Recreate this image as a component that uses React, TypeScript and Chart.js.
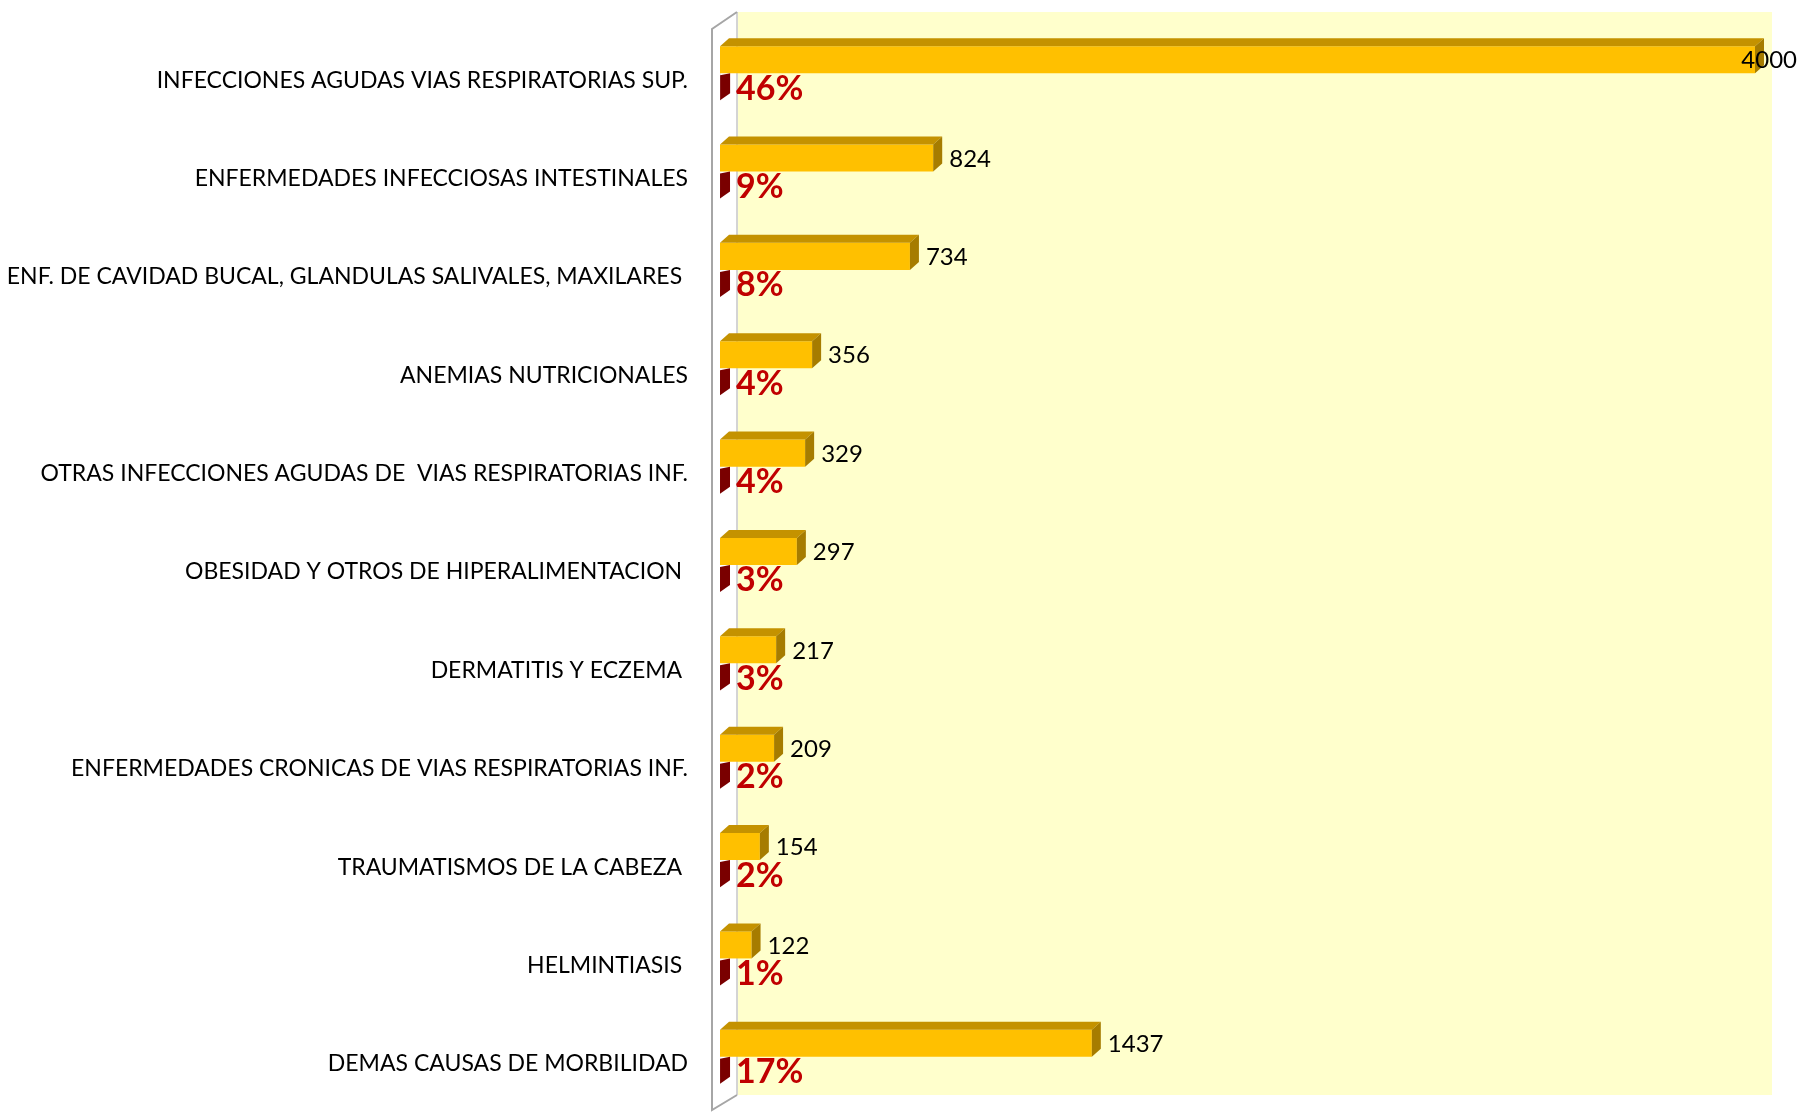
import React, { useEffect, useRef } from "react";
import { Chart, registerables } from "chart.js";

Chart.register(...registerables);

const categories = [
  "INFECCIONES AGUDAS VIAS RESPIRATORIAS SUP.",
  "ENFERMEDADES INFECCIOSAS INTESTINALES",
  "ENF. DE CAVIDAD BUCAL, GLANDULAS SALIVALES, MAXILARES ",
  "ANEMIAS NUTRICIONALES",
  "OTRAS INFECCIONES AGUDAS DE  VIAS RESPIRATORIAS INF.",
  "OBESIDAD Y OTROS DE HIPERALIMENTACION ",
  "DERMATITIS Y ECZEMA ",
  "ENFERMEDADES CRONICAS DE VIAS RESPIRATORIAS INF.",
  "TRAUMATISMOS DE LA CABEZA ",
  "HELMINTIASIS ",
  "DEMAS CAUSAS DE MORBILIDAD",
];

const casos = [4000, 824, 734, 356, 329, 297, 217, 209, 154, 122, 1437];
const porcentaje = [0.46, 0.09, 0.08, 0.04, 0.04, 0.03, 0.03, 0.02, 0.02, 0.01, 0.17];

const GOLD = "#FFC000";
const GOLD_TOP = "#C49200";
const GOLD_SIDE = "#A67C00";
const RED_SIDE = "#7A0000";
const PCT_RED = "#C00000";
const FONT = "Lato, 'Open Sans', sans-serif";

const DX = 9;
const DY = 8;

const decorPlugin = {
  id: "decor3d",
  beforeDatasetsDraw(chart: any) {
    const { ctx, chartArea } = chart;
    ctx.save();
    const bx0 = chartArea.left + 17;
    const bx1 = chartArea.right + 17;
    const by0 = chartArea.top - 12;
    const by1 = chartArea.bottom - 11;
    ctx.fillStyle = "#FFFFCC";
    ctx.fillRect(bx0, by0, bx1 - bx0, by1 - by0);
    const lx = chartArea.left - 8;
    ctx.strokeStyle = "#D4D4D4";
    ctx.lineWidth = 2;
    ctx.beginPath();
    ctx.moveTo(bx0, by0);
    ctx.lineTo(bx0, by1);
    ctx.stroke();
    ctx.strokeStyle = "#A6A6A6";
    ctx.beginPath();
    ctx.moveTo(bx0, by0);
    ctx.lineTo(lx, by0 + 17);
    ctx.lineTo(lx, by1 + 15);
    ctx.lineTo(bx0, by1);
    ctx.stroke();
    ctx.restore();
  },
  afterDatasetsDraw(chart: any) {
    const { ctx } = chart;
    ctx.save();
    const gold = chart.getDatasetMeta(0).data;
    gold.forEach((el: any) => {
      const p = el.getProps(["x", "y", "base", "height"], true);
      const top = p.y - p.height / 2;
      const bottom = p.y + p.height / 2;
      ctx.fillStyle = GOLD_TOP;
      ctx.beginPath();
      ctx.moveTo(p.base, top);
      ctx.lineTo(p.x, top);
      ctx.lineTo(p.x + DX, top - DY);
      ctx.lineTo(p.base + DX, top - DY);
      ctx.closePath();
      ctx.fill();
      ctx.fillStyle = GOLD_SIDE;
      ctx.beginPath();
      ctx.moveTo(p.x, top);
      ctx.lineTo(p.x + DX, top - DY);
      ctx.lineTo(p.x + DX, bottom - DY);
      ctx.lineTo(p.x, bottom);
      ctx.closePath();
      ctx.fill();
    });
    const red = chart.getDatasetMeta(1).data;
    red.forEach((el: any) => {
      const p = el.getProps(["x", "y", "base", "height"], true);
      const top = p.y - p.height / 2;
      const bottom = p.y + p.height / 2;
      ctx.fillStyle = RED_SIDE;
      ctx.beginPath();
      ctx.moveTo(p.x, top + 2);
      ctx.lineTo(p.x + DX + 1, top);
      ctx.lineTo(p.x + DX + 1, bottom - 7);
      ctx.lineTo(p.x, bottom);
      ctx.closePath();
      ctx.fill();
    });
    ctx.restore();
  },
  afterDraw(chart: any) {
    const { ctx, width } = chart;
    ctx.save();
    ctx.textBaseline = "middle";
    ctx.textAlign = "left";
    const gold = chart.getDatasetMeta(0).data;
    ctx.font = `24px ${FONT}`;
    ctx.fillStyle = "#000000";
    gold.forEach((el: any, i: number) => {
      const p = el.getProps(["x", "y"], true);
      const txt = String(casos[i]);
      const w = ctx.measureText(txt).width;
      let x = p.x + 16;
      if (x + w > width - 6) x = width - 6 - w;
      ctx.fillText(txt, x, p.y + 1);
    });
    const red = chart.getDatasetMeta(1).data;
    ctx.font = `bold 34px ${FONT}`;
    ctx.fillStyle = PCT_RED;
    red.forEach((el: any, i: number) => {
      const p = el.getProps(["x", "y"], true);
      const txt = Math.round(porcentaje[i] * 100) + "%";
      ctx.fillText(txt, p.x + 16, p.y + 2);
    });
    ctx.restore();
  },
};

export default function App() {
  const ref = useRef<HTMLCanvasElement | null>(null);
  useEffect(() => {
    if (!ref.current) return;
    const chart = new Chart(ref.current, {
      type: "bar",
      data: {
        labels: categories,
        datasets: [
          {
            label: "Casos",
            data: casos,
            backgroundColor: GOLD,
            borderWidth: 0,
            categoryPercentage: 0.55,
            barPercentage: 1,
          },
          {
            label: "%",
            data: porcentaje,
            backgroundColor: RED_SIDE,
            borderWidth: 0,
            categoryPercentage: 0.55,
            barPercentage: 1,
          },
        ],
      },
      options: {
        indexAxis: "y",
        animation: false,
        responsive: false,
        maintainAspectRatio: false,
        devicePixelRatio: 1,
        layout: { padding: { top: 24, bottom: 6, left: 0, right: 48 } },
        plugins: {
          legend: { display: false },
          tooltip: { enabled: false },
        },
        scales: {
          x: { display: false, min: 0, max: 4000 },
          y: {
            grid: { display: false, drawTicks: false },
            border: { display: false },
            afterFit: (scale: any) => {
              scale.width = 720;
              scale.paddingTop = 0;
              scale.paddingBottom = 0;
            },
            ticks: {
              padding: 32,
              labelOffset: 7,
              color: "#000000",
              font: { family: FONT, size: 23 },
            },
          },
        },
      },
      plugins: [decorPlugin],
    });
    return () => chart.destroy();
  }, []);
  return (
    <div style={{ position: "fixed", left: 0, top: 0, width: 1803, height: 1112, background: "#fff" }}>
      <canvas ref={ref} width={1803} height={1112} style={{ display: "block", width: 1803, height: 1112 }} />
    </div>
  );
}
